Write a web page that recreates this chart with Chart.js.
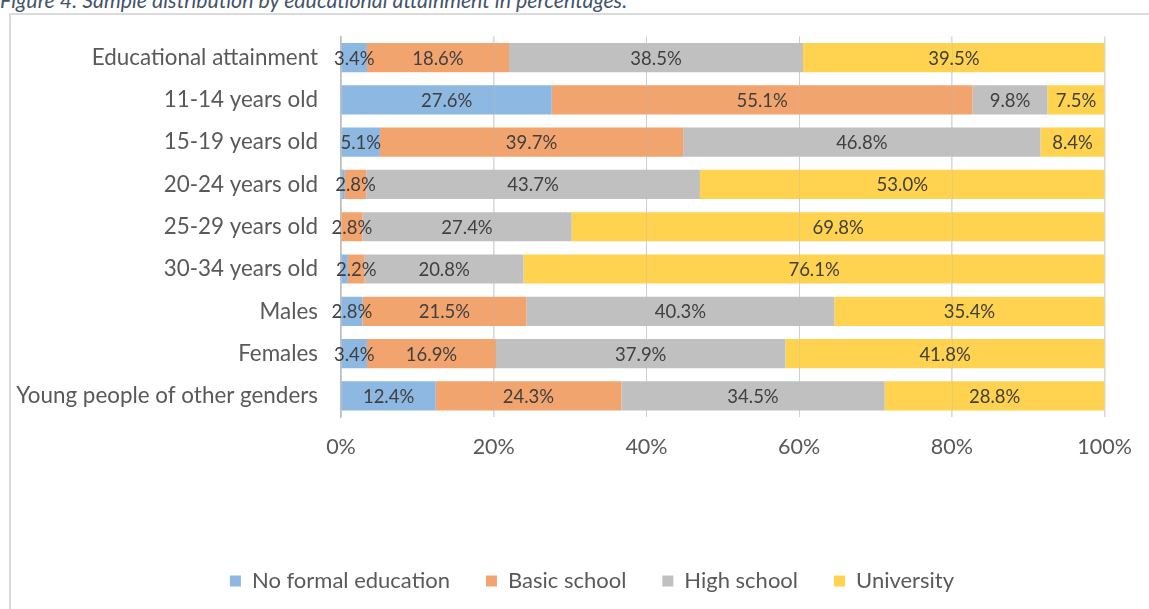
<!DOCTYPE html>
<html>
<head>
<meta charset="utf-8">
<script src="https://cdn.jsdelivr.net/npm/chart.js@4.4.1/dist/chart.umd.min.js"></script>
<style>
  html, body { margin: 0; padding: 0; background: #ffffff; overflow: hidden; }
  body { width: 1149px; height: 609px; position: relative; }
  #title { position: absolute; left: 0; top: -9px; font-family: Lato, sans-serif; font-style: italic;
           font-size: 21.3px; line-height: 19px; color: #44546A; white-space: nowrap; }
  #frame { position: absolute; left: 9px; top: 13px; width: 1300px; height: 700px;
           border-left: 2px solid #dadada; border-top: 2px solid #dadada; }
  #wrap { position: absolute; left: 0; top: 0; width: 1149px; height: 609px; }
</style>
</head>
<body>
<div id="title">Figure 4: Sample distribution by educational attainment in percentages.</div>
<div id="frame"></div>
<div id="wrap"><canvas id="c" width="1149" height="609"></canvas></div>
<script>
const categories = ["Educational attainment", "11-14 years old", "15-19 years old", "20-24 years old",
  "25-29 years old", "30-34 years old", "Males", "Females", "Young people of other genders"];
const seriesNames = ["No formal education", "Basic school", "High school", "University"];
const noFormal   = [3.4, 27.6, 5.1, 0.5, 0.0, 0.9, 2.8, 3.4, 12.4];
const basic      = [18.6, 55.1, 39.7, 2.8, 2.8, 2.2, 21.5, 16.9, 24.3];
const highSchool = [38.5, 9.8, 46.8, 43.7, 27.4, 20.8, 40.3, 37.9, 34.5];
const university = [39.5, 7.5, 8.4, 53.0, 69.8, 76.1, 35.4, 41.8, 28.8];
const xTicks = [0, 20, 40, 60, 80, 100];
const colors = ["#8DB8E2", "#F2A46F", "#C0C0C0", "#FFD24F"];

const FONT = "Lato";

const labelPlugin = {
  id: "barLabels",
  afterLayout(chart) {
    // the original chart's legend is centred on a slightly wider frame
    if (chart.legend) { chart.legend.left += 34; chart.legend.right += 34; }
  },
  afterDatasetsDraw(chart) {
    const ctx = chart.ctx;
    const area = chart.chartArea;
    const xs = chart.scales.x;
    ctx.save();
    ctx.strokeStyle = "rgba(190,190,190,0.35)";
    ctx.lineWidth = 1;
    xTicks.slice(1).forEach(v => {
      const px = Math.round(xs.getPixelForValue(v)) + 0.5;
      ctx.beginPath(); ctx.moveTo(px, area.top); ctx.lineTo(px, area.bottom); ctx.stroke();
    });
    ctx.restore();
    ctx.save();
    ctx.font = "18.5px " + FONT;
    ctx.fillStyle = "#404040";
    ctx.textAlign = "center";
    ctx.textBaseline = "middle";
    chart.data.datasets.forEach((ds, di) => {
      const meta = chart.getDatasetMeta(di);
      meta.data.forEach((bar, i) => {
        const v = ds.data[i];
        if (v < 2) return;
        const cx = (bar.x + bar.base) / 2;
        ctx.fillText(v.toFixed(1) + "%", cx, bar.y + 1);
      });
    });
    ctx.restore();
  }
};

new Chart(document.getElementById("c"), {
  type: "bar",
  data: {
    labels: categories,
    datasets: [noFormal, basic, highSchool, university].map((d, i) => ({
      label: seriesNames[i],
      data: d,
      backgroundColor: colors[i],
      borderWidth: 0,
      barPercentage: 0.69,
      categoryPercentage: 1.0
    }))
  },
  options: {
    indexAxis: "y",
    responsive: false,
    animation: false,
    layout: { padding: { top: 36, right: 43, left: 10, bottom: 7 } },
    scales: {
      x: {
        stacked: true,
        min: 0, max: 100,
        afterBuildTicks(s) { s.ticks = xTicks.map(v => ({ value: v })); },
        afterFit(s) { s.height = 117; },
        grid: { color: "#d9d9d9", lineWidth: 1, drawTicks: false },
        border: { display: false },
        ticks: { padding: 17, color: "#595959", font: { family: FONT, size: 21.5 },
                 callback: v => v + "%" }
      },
      y: {
        stacked: true,
        afterFit(s) { s.width = 331; },
        grid: { display: false, drawTicks: false },
        border: { display: true, color: "#bfbfbf", width: 1.5 },
        ticks: { padding: 23, color: "#595959", font: { family: FONT, size: 22.4 } }
      }
    },
    plugins: {
      legend: {
        position: "bottom",
        labels: { boxWidth: 11, boxHeight: 11, padding: 36, color: "#595959",
                  font: { family: FONT, size: 22 } }
      },
      tooltip: { enabled: false }
    }
  },
  plugins: [labelPlugin]
});
</script>
</body>
</html>
